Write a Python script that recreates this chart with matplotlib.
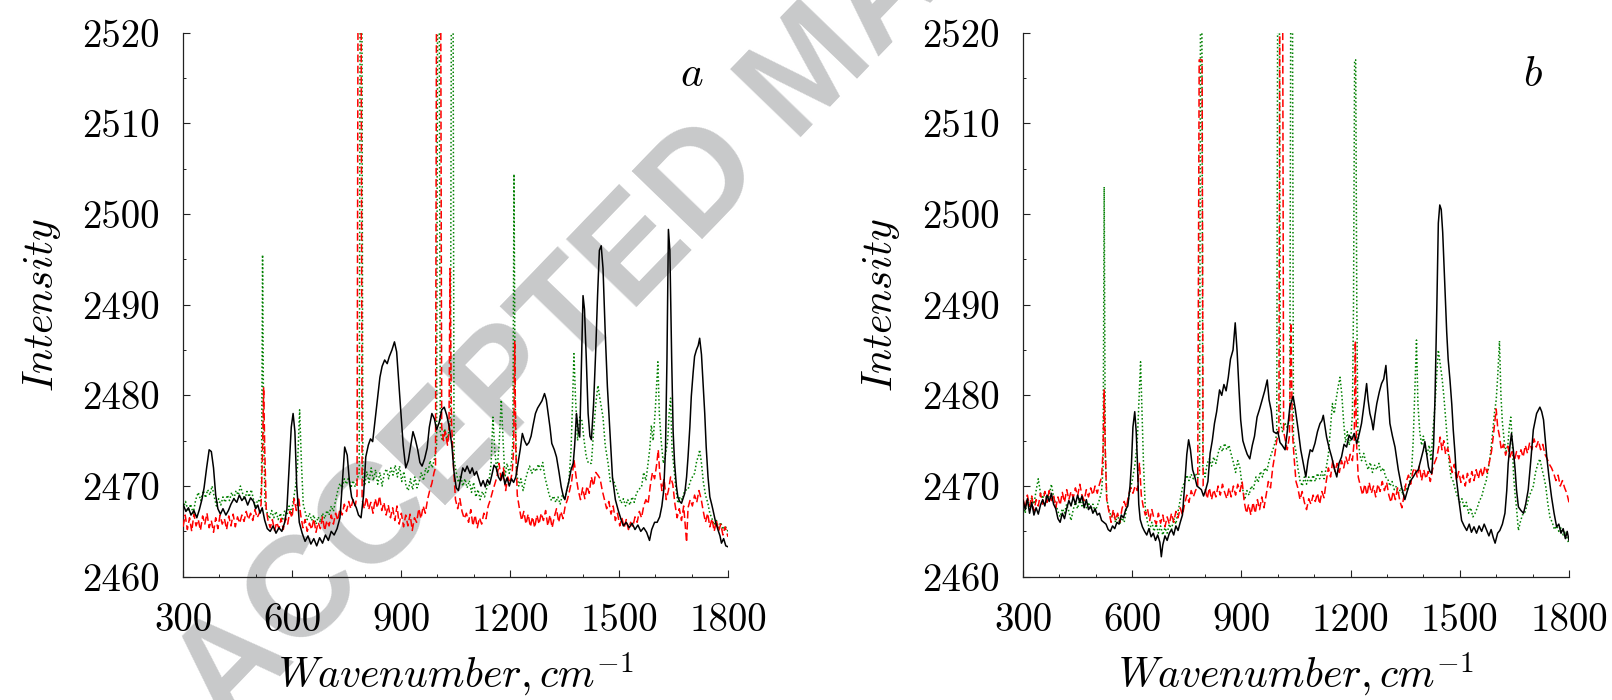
import matplotlib
matplotlib.use("Agg")
import matplotlib.pyplot as plt
from matplotlib.ticker import MultipleLocator

# ---------------- data (wavenumber, intensity) ----------------
XLIM = (300, 1800)
YLIM = (2460, 2520)
XTICKS = [300, 600, 900, 1200, 1500, 1800]
YTICKS = [2460, 2470, 2480, 2490, 2500, 2510, 2520]
PANEL_LABELS = ["a", "b"]
XLABEL = r"$Wavenumber, cm^{-1}$"
YLABEL = r"$Intensity$"
WATERMARK = "ACCEPTED MANUSCRIPT"

a_black = [(300,2468.0),(308,2467.2),(315,2467.6),(322,2466.8),(330,2467.3),(338,2466.5),(345,2467.4),
 (352,2468.5),(358,2469.8),(365,2472.0),(372,2474.0),(378,2473.8),(384,2472.0),(390,2469.0),(396,2467.5),
 (403,2466.9),(410,2467.5),(418,2466.8),(425,2467.3),(432,2468.0),(440,2468.6),(448,2468.2),(455,2469.0),
 (462,2468.4),(470,2468.8),(478,2467.9),(486,2468.7),(494,2468.3),(500,2467.5),(506,2467.9),(512,2467.0),
 (518,2467.6),(525,2466.2),(532,2465.3),(540,2465.0),(548,2465.6),(556,2464.8),(564,2465.4),(572,2465.0),
 (580,2466.0),(586,2467.5),(592,2472.0),(598,2476.5),(603,2478.0),(608,2476.0),(613,2470.0),(620,2466.0),
 (628,2464.8),(636,2463.9),(644,2464.5),(652,2463.6),(660,2464.2),(668,2463.4),(676,2464.3),(684,2463.7),
 (692,2464.6),(700,2464.0),(708,2465.0),(716,2464.6),(724,2465.3),(732,2466.5),(738,2470.0),(745,2474.3),
 (752,2473.4),(758,2470.5),(764,2468.8),(770,2468.2),(777,2467.6),(783,2466.8),(790,2466.5),(797,2469.0),
 (803,2473.2),(810,2474.5),(816,2475.2),(822,2474.9),(828,2477.0),(835,2479.5),(842,2482.0),(848,2483.2),
 (855,2483.9),(862,2483.5),(868,2484.3),(875,2485.0),(882,2485.9),(888,2484.8),(893,2482.0),(899,2478.5),
 (906,2474.5),(913,2472.0),(920,2472.8),(927,2474.5),(933,2476.0),(939,2475.2),(946,2474.0),(952,2472.6),
 (958,2472.2),(965,2473.0),(972,2474.2),(978,2476.5),(985,2478.0),(992,2477.4),(998,2476.2),(1005,2477.0),
 (1012,2478.4),(1019,2478.7),(1026,2477.8),(1033,2476.5),(1040,2474.5),(1046,2471.5),(1052,2469.8),
 (1058,2469.5),(1064,2470.8),(1070,2472.0),(1076,2471.6),(1082,2472.2),(1090,2471.4),(1096,2472.0),
 (1102,2471.2),(1108,2471.6),(1114,2470.8),(1120,2470.0),(1126,2470.6),(1132,2469.9),(1138,2470.7),
 (1144,2470.2),(1150,2471.2),(1156,2472.3),(1162,2472.0),(1168,2471.0),(1174,2470.6),(1180,2471.5),
 (1186,2470.2),(1192,2470.9),(1198,2470.0),(1204,2470.8),(1210,2470.4),(1216,2471.0),(1222,2472.5),
 (1228,2474.0),(1234,2475.8),(1240,2475.0),(1246,2474.5),(1252,2474.8),(1258,2475.5),(1264,2476.8),
 (1270,2478.0),(1276,2478.6),(1282,2479.0),(1288,2479.4),(1295,2480.2),(1300,2479.5),(1305,2478.0),
 (1310,2476.5),(1315,2474.7),(1322,2474.0),(1328,2473.2),(1335,2471.5),(1341,2469.9),(1346,2469.0),
 (1351,2468.5),(1356,2469.5),(1362,2470.5),(1368,2471.8),(1374,2472.5),(1378,2474.5),(1383,2478.0),
 (1388,2476.0),(1392,2475.4),(1397,2484.0),(1401,2491.0),(1405,2489.5),(1410,2484.0),(1415,2478.0),
 (1420,2475.5),(1424,2475.1),(1430,2479.0),(1436,2485.0),(1441,2491.0),(1446,2496.0),(1451,2496.5),
 (1456,2494.0),(1462,2487.0),(1468,2481.0),(1475,2476.0),(1482,2471.0),(1490,2468.5),(1498,2467.3),
 (1505,2466.4),(1512,2465.6),(1520,2466.0),(1528,2465.4),(1536,2465.9),(1544,2465.2),(1552,2465.7),
 (1560,2465.0),(1568,2465.4),(1576,2464.9),(1584,2464.0),(1590,2465.2),(1598,2466.0),(1605,2466.0),
 (1612,2466.6),(1618,2467.8),(1623,2469.5),(1628,2474.0),(1632,2484.0),(1636,2498.3),(1640,2496.0),
 (1645,2484.0),(1649,2476.0),(1653,2472.5),(1658,2470.0),(1662,2468.8),(1667,2468.3),(1672,2468.1),
 (1676,2468.6),(1681,2469.2),(1686,2471.0),(1690,2473.2),(1695,2476.5),(1699,2479.9),(1704,2482.5),
 (1708,2484.3),(1713,2485.0),(1718,2485.5),(1722,2486.3),(1727,2484.5),(1731,2481.7),(1736,2478.0),
 (1740,2474.3),(1745,2471.0),(1750,2468.8),(1755,2468.0),(1759,2467.3),(1766,2466.0),(1773,2465.1),
 (1778,2464.5),(1782,2463.7),(1788,2464.2),(1794,2463.4),(1800,2463.3)]

a_red = [(300,2465.5),(306,2466.8),(312,2465.2),(318,2466.5),(324,2465.0),(330,2466.9),(336,2465.6),
 (342,2466.3),(348,2465.1),(354,2466.7),(360,2465.8),(366,2467.0),(372,2465.4),(378,2466.2),(384,2464.9),
 (390,2466.5),(396,2465.3),(402,2466.8),(408,2465.8),(414,2466.4),(420,2465.2),(426,2466.7),(432,2465.6),
 (438,2466.9),(444,2465.5),(450,2466.6),(456,2465.9),(462,2466.8),(468,2466.1),(474,2467.2),(480,2466.3),
 (486,2467.0),(492,2466.2),(498,2467.4),(504,2466.5),(510,2467.0),(515,2468.0),(519,2474.0),(522,2480.9),
 (525,2474.0),(529,2467.5),(534,2466.2),(540,2465.4),(546,2466.3),(552,2465.1),(558,2466.0),(564,2465.3),
 (570,2466.4),(576,2465.2),(582,2466.5),(588,2465.8),(594,2467.2),(600,2466.5),(606,2468.6),(612,2467.3),
 (618,2468.8),(624,2466.8),(630,2465.4),(636,2466.3),(642,2465.0),(648,2465.9),(654,2465.2),(660,2466.4),
 (666,2464.9),(672,2466.0),(678,2465.3),(684,2466.6),(690,2465.1),(696,2466.2),(702,2465.6),(708,2466.8),
 (714,2465.8),(720,2467.0),(726,2466.2),(732,2467.5),(738,2466.8),(744,2468.0),(750,2467.2),(756,2468.3),
 (762,2467.5),(768,2468.5),(774,2467.8),(779,2469.0),(782,2530.0),(790,2530.0),(793,2468.5),(799,2467.5),
 (805,2468.8),(811,2467.4),(817,2468.2),(823,2467.0),(829,2468.6),(835,2467.6),(841,2468.9),(847,2467.3),
 (853,2468.2),(859,2466.8),(865,2467.9),(871,2466.5),(877,2467.6),(883,2466.2),(889,2467.8),(895,2465.8),
 (901,2467.0),(907,2465.5),(913,2466.8),(919,2465.6),(925,2466.9),(931,2465.1),(937,2466.5),(943,2466.0),
 (949,2467.5),(955,2466.4),(961,2467.8),(967,2467.0),(973,2468.5),(979,2469.5),(985,2470.3),(991,2471.5),
 (995,2472.0),(998,2530.0),(1009,2530.0),(1012,2476.5),(1017,2475.0),(1022,2476.0),(1028,2474.5),
 (1032,2476.0),(1035,2494.0),(1039,2477.0),(1044,2472.5),(1050,2468.5),(1056,2467.5),(1062,2468.6),
 (1068,2467.2),(1074,2466.4),(1080,2467.0),(1086,2466.0),(1092,2467.4),(1098,2465.6),(1104,2466.8),
 (1110,2465.4),(1116,2466.5),(1122,2465.8),(1128,2467.0),(1134,2466.4),(1140,2467.8),(1146,2468.5),
 (1152,2469.4),(1158,2470.2),(1164,2471.0),(1170,2472.5),(1176,2470.5),(1182,2472.0),(1188,2469.5),
 (1194,2471.0),(1200,2470.3),(1206,2471.5),(1210,2474.0),(1213,2486.0),(1216,2474.0),(1220,2469.0),
 (1226,2467.5),(1232,2466.2),(1238,2467.2),(1244,2465.8),(1250,2466.9),(1256,2465.5),(1262,2466.6),
 (1268,2465.4),(1274,2466.8),(1280,2465.8),(1286,2467.0),(1292,2466.2),(1298,2467.3),(1304,2465.6),
 (1310,2466.8),(1316,2465.4),(1322,2466.6),(1328,2467.5),(1334,2466.0),(1340,2467.2),(1346,2466.4),
 (1352,2467.8),(1358,2468.5),(1364,2469.5),(1370,2470.6),(1376,2472.9),(1382,2471.0),(1388,2469.5),
 (1394,2468.5),(1400,2469.8),(1406,2468.6),(1412,2470.0),(1418,2469.2),(1424,2471.0),(1430,2470.0),
 (1436,2471.5),(1442,2471.2),(1448,2470.8),(1454,2469.5),(1460,2468.5),(1466,2467.5),(1472,2468.3),
 (1478,2466.9),(1484,2467.8),(1490,2466.2),(1496,2467.0),(1502,2465.6),(1508,2466.5),(1514,2465.4),
 (1520,2466.3),(1526,2465.2),(1532,2466.0),(1538,2465.5),(1544,2466.6),(1550,2466.0),(1556,2467.2),
 (1562,2466.5),(1568,2467.8),(1574,2468.5),(1580,2468.0),(1586,2470.0),(1592,2471.5),(1598,2470.8),
 (1604,2472.5),(1608,2474.0),(1612,2471.5),(1618,2469.5),(1624,2470.8),(1630,2468.5),(1636,2469.5),
 (1642,2471.0),(1648,2470.2),(1654,2468.0),(1660,2466.5),(1666,2467.5),(1672,2466.2),(1678,2467.8),
 (1686,2463.8),(1690,2467.6),(1696,2468.5),(1702,2467.8),(1708,2469.0),(1714,2468.2),(1720,2469.5),
 (1726,2468.6),(1732,2467.2),(1738,2466.0),(1744,2467.0),(1750,2465.5),(1756,2466.4),(1762,2465.0),
 (1768,2466.2),(1774,2465.0),(1780,2465.8),(1786,2464.6),(1792,2465.5),(1800,2464.4)]

a_green = [(300,2467.5),(307,2468.3),(314,2467.2),(321,2468.0),(328,2467.0),(335,2468.5),(342,2469.3),
 (349,2468.4),(356,2469.5),(362,2468.7),(368,2469.6),(374,2469.0),(380,2470.0),(386,2468.8),(392,2467.8),
 (398,2468.6),(404,2467.9),(410,2468.8),(416,2468.2),(422,2469.0),(428,2468.4),(434,2469.3),(440,2468.6),
 (446,2469.5),(452,2469.0),(458,2470.0),(464,2469.2),(470,2468.5),(476,2469.4),(482,2468.8),(488,2469.6),
 (494,2468.5),(500,2467.8),(506,2468.5),(512,2468.2),(516,2470.0),(519,2495.5),(522,2475.0),(526,2468.0),
 (532,2467.0),(538,2466.4),(544,2467.3),(550,2466.5),(556,2467.2),(562,2466.3),(568,2467.0),(574,2466.2),
 (580,2467.3),(586,2466.8),(592,2467.8),(598,2467.0),(604,2468.5),(610,2470.0),(615,2472.1),(621,2478.4),
 (626,2472.5),(631,2468.0),(636,2467.2),(642,2466.3),(648,2467.0),(654,2466.2),(660,2466.8),(666,2465.8),
 (672,2466.6),(678,2466.0),(684,2467.0),(690,2466.4),(696,2467.3),(702,2466.8),(708,2467.8),(714,2467.2),
 (720,2468.4),(726,2469.5),(732,2470.3),(738,2469.8),(744,2470.8),(750,2470.2),(756,2471.0),(762,2469.8),
 (768,2470.6),(774,2469.9),(780,2470.8),(785,2471.5),(788,2530.0),(792,2530.0),(795,2471.0),(800,2470.0),
 (806,2471.6),(812,2470.4),(818,2472.0),(824,2470.6),(830,2471.8),(836,2470.2),(842,2471.5),(848,2470.0),
 (854,2471.4),(860,2471.9),(866,2470.8),(872,2472.0),(878,2471.2),(884,2472.3),(890,2471.0),(896,2472.2),
 (902,2470.5),(908,2471.6),(914,2470.0),(920,2469.5),(926,2470.8),(932,2469.6),(938,2471.0),(944,2469.8),
 (950,2470.5),(956,2471.5),(962,2470.6),(968,2472.0),(974,2471.4),(980,2472.8),(986,2472.0),(992,2473.0),
 (998,2474.5),(1001,2530.0),(1005,2530.0),(1008,2476.0),(1014,2475.0),(1020,2476.3),(1026,2475.2),
 (1032,2476.0),(1036,2477.0),(1039,2530.0),(1043,2530.0),(1046,2473.0),(1052,2471.5),(1058,2470.4),
 (1064,2471.2),(1070,2470.0),(1076,2470.8),(1082,2469.8),(1088,2470.6),(1094,2469.3),(1100,2470.4),
 (1106,2468.8),(1112,2469.6),(1118,2468.5),(1124,2469.4),(1130,2468.8),(1136,2469.8),(1142,2470.5),
 (1148,2472.5),(1153,2477.6),(1158,2474.0),(1164,2471.5),(1170,2474.5),(1176,2479.5),(1181,2475.0),
 (1186,2471.0),(1192,2472.5),(1198,2471.4),(1204,2472.5),(1208,2475.0),(1211,2504.4),(1214,2480.0),
 (1218,2471.5),(1224,2470.0),(1230,2470.8),(1236,2469.5),(1242,2470.6),(1248,2471.5),(1254,2472.2),
 (1260,2471.4),(1266,2472.0),(1272,2471.6),(1278,2472.4),(1284,2471.8),(1290,2472.6),(1296,2471.0),
 (1302,2470.0),(1308,2469.0),(1314,2468.4),(1320,2468.9),(1326,2468.2),(1332,2468.8),(1338,2468.0),
 (1344,2469.0),(1350,2468.5),(1356,2469.5),(1362,2470.5),(1368,2474.0),(1372,2479.0),(1376,2484.6),
 (1380,2480.0),(1386,2475.0),(1392,2477.6),(1398,2477.2),(1404,2475.0),(1410,2473.2),(1416,2472.5),
 (1424,2472.5),(1430,2476.0),(1436,2479.0),(1442,2481.1),(1448,2479.5),(1456,2477.6),(1462,2474.5),
 (1470,2472.5),(1476,2470.5),(1482,2470.8),(1488,2470.3),(1494,2469.5),(1500,2468.8),(1506,2468.1),
 (1512,2468.6),(1518,2467.8),(1524,2468.5),(1530,2467.9),(1536,2468.8),(1542,2468.2),(1548,2469.2),
 (1554,2469.6),(1562,2469.9),(1568,2471.5),(1574,2470.6),(1580,2472.5),(1585,2474.2),(1589,2476.7),
 (1594,2475.0),(1600,2478.5),(1604,2481.5),(1607,2483.7),(1611,2478.0),(1616,2475.0),(1622,2472.5),
 (1628,2473.5),(1634,2475.0),(1638,2478.0),(1642,2479.7),(1646,2474.0),(1650,2472.5),(1656,2470.0),
 (1662,2468.1),(1668,2468.8),(1674,2468.5),(1680,2469.4),(1686,2469.6),(1690,2469.6),(1696,2470.5),
 (1702,2471.0),(1708,2471.4),(1714,2472.8),(1718,2473.2),(1722,2474.0),(1727,2472.5),(1732,2470.5),
 (1738,2469.0),(1744,2468.2),(1750,2467.0),(1756,2466.4),(1762,2465.7),(1768,2466.2),(1774,2465.4),
 (1780,2466.0),(1786,2465.2),(1792,2465.6),(1800,2465.0)]

b_black = [(300,2468.5),(306,2467.4),(312,2468.6),(318,2467.0),(324,2468.2),(330,2466.8),(336,2467.6),
 (342,2466.9),(348,2467.9),(354,2468.5),(360,2467.8),(366,2469.0),(372,2468.3),(378,2469.2),(384,2468.0),
 (390,2467.5),(396,2466.4),(402,2466.0),(408,2467.0),(414,2466.4),(420,2467.5),(426,2468.4),(432,2467.8),
 (438,2468.8),(444,2468.0),(450,2469.0),(456,2468.2),(462,2468.9),(468,2467.6),(474,2468.5),(480,2467.4),
 (486,2467.8),(492,2467.0),(498,2467.5),(504,2466.8),(510,2467.0),(516,2466.2),(522,2466.0),(528,2465.8),
 (534,2465.2),(540,2465.0),(546,2465.6),(552,2465.3),(558,2466.0),(564,2465.8),(570,2466.8),(576,2466.5),
 (582,2467.4),(588,2467.8),(594,2470.0),(598,2472.5),(602,2476.5),(607,2478.2),(611,2476.0),(614,2473.0),
 (618,2468.0),(622,2466.3),(628,2465.5),(634,2465.0),(640,2464.6),(646,2465.3),(652,2464.4),(658,2464.8),
 (664,2464.0),(670,2464.6),(676,2463.8),(680,2462.2),(684,2463.5),(690,2464.5),(696,2464.0),(702,2464.8),
 (708,2465.2),(714,2464.6),(720,2465.6),(726,2465.1),(732,2466.0),(738,2466.8),(744,2470.0),(750,2473.5),
 (755,2475.1),(760,2474.0),(766,2471.8),(772,2471.0),(778,2470.0),(784,2469.8),(790,2469.6),(796,2468.9),
 (802,2469.6),(808,2470.5),(814,2473.6),(820,2475.0),(826,2476.9),(832,2478.2),(840,2480.6),(846,2480.0),
 (852,2481.2),(858,2480.5),(864,2482.0),(870,2484.0),(877,2485.0),(883,2488.0),(888,2485.0),(893,2481.0),
 (898,2477.3),(904,2475.0),(910,2474.2),(916,2473.5),(923,2473.0),(930,2474.5),(936,2475.5),(943,2477.6),
 (950,2478.5),(957,2479.5),(964,2480.5),(971,2481.7),(976,2479.5),(982,2478.3),(988,2476.0),(996,2475.8),
 (1000,2476.0),(1006,2474.8),(1012,2474.5),(1020,2474.0),(1026,2476.0),(1033,2478.7),(1042,2479.9),
 (1048,2478.5),(1056,2476.2),(1063,2474.0),(1070,2472.5),(1077,2471.0),(1083,2472.8),(1089,2474.0),
 (1095,2473.8),(1102,2474.7),(1109,2476.0),(1116,2476.9),(1121,2477.2),(1125,2477.8),(1130,2476.5),
 (1134,2475.4),(1141,2474.2),(1148,2473.2),(1155,2472.0),(1162,2471.0),(1168,2472.5),(1175,2473.2),
 (1182,2474.6),(1189,2474.3),(1196,2475.6),(1203,2475.1),(1210,2475.8),(1217,2474.7),(1224,2475.8),
 (1230,2476.9),(1237,2479.0),(1244,2481.3),(1248,2479.5),(1253,2478.0),(1258,2477.2),(1262,2476.2),
 (1267,2477.8),(1272,2479.1),(1279,2480.4),(1285,2481.3),(1291,2481.8),(1297,2483.3),(1303,2479.9),
 (1308,2476.9),(1315,2475.5),(1322,2474.3),(1331,2471.8),(1340,2469.9),(1349,2468.5),(1354,2469.2),
 (1359,2469.9),(1365,2470.6),(1372,2471.0),(1379,2471.5),(1386,2471.8),(1391,2472.6),(1395,2473.2),
 (1400,2474.0),(1404,2474.9),(1409,2473.5),(1414,2472.1),(1418,2471.6),(1423,2471.4),(1428,2474.5),
 (1432,2479.9),(1437,2490.0),(1441,2499.0),(1445,2501.0),(1449,2500.5),(1453,2498.0),(1458,2493.0),
 (1464,2487.0),(1468,2484.0),(1473,2481.7),(1478,2479.0),(1482,2476.2),(1487,2473.5),(1491,2470.7),
 (1498,2468.3),(1505,2466.2),(1512,2465.6),(1519,2465.1),(1526,2465.8),(1532,2464.9),(1539,2465.5),
 (1546,2464.8),(1553,2465.6),(1560,2465.0),(1567,2465.8),(1574,2465.1),(1580,2464.5),(1586,2465.2),
 (1592,2464.3),(1597,2463.7),(1604,2464.8),(1610,2465.1),(1617,2465.8),(1624,2467.0),(1629,2469.5),
 (1633,2472.5),(1638,2474.5),(1642,2475.8),(1647,2474.0),(1652,2471.8),(1656,2469.5),(1661,2467.7),
 (1668,2467.3),(1675,2467.0),(1681,2468.0),(1688,2469.6),(1695,2472.8),(1702,2476.2),(1706,2477.0),
 (1711,2478.0),(1716,2478.4),(1720,2478.7),(1725,2478.2),(1730,2477.3),(1734,2475.5),(1739,2473.2),
 (1745,2471.0),(1752,2468.8),(1759,2467.0),(1766,2465.5),(1772,2465.8),(1778,2464.8),(1784,2465.3),
 (1790,2464.2),(1795,2465.0),(1800,2464.0)]

b_red = [(300,2468.6),(306,2467.5),(312,2469.0),(318,2467.8),(324,2468.9),(330,2467.2),(336,2468.5),
 (342,2467.8),(348,2469.2),(354,2468.0),(360,2469.4),(366,2468.2),(372,2469.5),(378,2468.4),(384,2469.0),
 (390,2467.6),(396,2468.8),(402,2467.9),(408,2469.3),(414,2468.2),(420,2469.6),(426,2468.5),(432,2469.4),
 (438,2468.7),(444,2469.8),(450,2468.9),(456,2470.2),(462,2469.0),(468,2468.4),(474,2469.6),(480,2468.8),
 (486,2469.8),(492,2469.0),(498,2470.0),(504,2469.2),(510,2470.2),(516,2471.0),(520,2474.0),(523,2480.6),
 (526,2474.0),(530,2468.5),(536,2467.2),(542,2466.0),(548,2467.4),(554,2466.2),(560,2467.0),(566,2466.0),
 (572,2467.5),(578,2468.3),(584,2467.6),(590,2469.0),(596,2469.8),(602,2469.2),(608,2470.0),(614,2469.5),
 (620,2472.5),(625,2469.0),(630,2467.8),(636,2466.8),(642,2467.5),(648,2466.2),(654,2467.4),(660,2466.4),
 (666,2465.8),(672,2467.0),(678,2465.9),(684,2466.8),(690,2465.5),(696,2466.6),(702,2465.8),(708,2467.0),
 (714,2466.0),(720,2467.2),(726,2466.5),(732,2467.6),(738,2466.8),(744,2468.0),(750,2469.0),(756,2468.2),
 (762,2469.5),(768,2468.8),(774,2469.5),(780,2470.0),(784,2517.0),(792,2517.0),(795,2470.0),(800,2469.8),
 (806,2468.6),(812,2469.8),(818,2468.5),(824,2469.6),(830,2468.8),(836,2470.0),(842,2469.0),(848,2470.2),
 (854,2469.3),(860,2468.6),(866,2469.8),(872,2468.8),(878,2470.0),(884,2469.0),(890,2470.2),(896,2469.4),
 (902,2470.5),(908,2468.2),(914,2467.0),(920,2468.0),(926,2466.8),(932,2468.2),(938,2467.0),(944,2468.5),
 (950,2467.4),(956,2468.8),(962,2467.6),(968,2469.0),(974,2470.5),(980,2469.8),(986,2472.0),(992,2473.5),
 (997,2475.0),(1003,2476.0),(1006,2530.0),(1013,2530.0),(1016,2476.0),(1021,2475.0),(1026,2474.0),
 (1032,2475.5),(1036,2488.0),(1040,2476.0),(1045,2473.0),(1050,2470.5),(1055,2469.8),(1061,2468.5),
 (1067,2469.4),(1073,2468.2),(1079,2467.4),(1085,2468.6),(1091,2468.0),(1097,2469.0),(1103,2468.3),
 (1109,2469.2),(1115,2468.0),(1121,2469.4),(1127,2468.7),(1133,2470.5),(1139,2472.0),(1145,2471.0),
 (1151,2472.8),(1157,2471.6),(1163,2472.5),(1169,2471.5),(1175,2472.8),(1181,2472.0),(1187,2473.2),
 (1193,2472.4),(1199,2473.5),(1205,2472.8),(1210,2475.0),(1213,2486.0),(1216,2475.0),(1221,2471.0),
 (1227,2470.0),(1233,2469.0),(1239,2470.2),(1245,2469.0),(1251,2470.4),(1257,2469.2),(1263,2470.0),
 (1269,2468.8),(1275,2470.2),(1281,2469.4),(1287,2470.5),(1293,2469.5),(1299,2470.4),(1305,2469.0),
 (1311,2468.2),(1317,2469.4),(1323,2468.5),(1329,2469.8),(1335,2468.4),(1341,2467.6),(1347,2469.0),
 (1353,2470.5),(1359,2471.2),(1365,2470.2),(1371,2471.6),(1377,2472.0),(1383,2471.0),(1389,2472.2),
 (1395,2470.6),(1401,2471.8),(1407,2470.8),(1413,2471.6),(1419,2470.5),(1425,2471.8),(1431,2472.6),
 (1437,2473.2),(1443,2474.5),(1446,2475.4),(1451,2474.0),(1456,2475.0),(1461,2473.5),(1467,2474.2),
 (1473,2472.8),(1479,2471.5),(1485,2472.4),(1491,2470.6),(1497,2471.6),(1503,2470.4),(1509,2471.2),
 (1515,2470.0),(1521,2471.4),(1527,2470.4),(1533,2471.6),(1539,2470.6),(1545,2471.8),(1551,2470.8),
 (1557,2472.0),(1563,2471.0),(1569,2472.2),(1575,2471.5),(1581,2472.6),(1587,2473.8),(1592,2475.5),
 (1596,2477.0),(1600,2478.5),(1604,2476.5),(1609,2475.5),(1614,2474.0),(1620,2474.6),(1626,2473.4),
 (1632,2474.4),(1638,2473.2),(1644,2474.0),(1650,2472.8),(1656,2473.8),(1662,2473.0),(1668,2474.0),
 (1674,2473.2),(1680,2474.5),(1686,2473.6),(1692,2474.8),(1698,2474.0),(1704,2475.2),(1710,2474.3),
 (1716,2475.0),(1722,2474.0),(1728,2474.6),(1734,2473.5),(1740,2473.0),(1746,2472.4),(1752,2472.0),
 (1758,2471.4),(1764,2470.6),(1770,2471.2),(1776,2470.0),(1782,2470.6),(1788,2469.8),(1794,2469.2),
 (1800,2468.2)]

b_green = [(300,2468.2),(306,2467.0),(312,2468.5),(318,2467.6),(324,2468.8),(330,2468.0),(336,2469.5),
 (342,2470.8),(348,2469.2),(354,2468.6),(360,2469.4),(366,2468.4),(372,2469.0),(378,2470.2),(384,2468.8),
 (390,2468.0),(396,2467.2),(402,2466.6),(408,2467.5),(414,2467.0),(420,2468.0),(426,2467.2),(432,2466.2),
 (438,2467.4),(444,2468.2),(450,2467.5),(456,2468.6),(462,2467.8),(468,2468.5),(474,2467.6),(480,2468.2),
 (486,2467.4),(492,2468.0),(498,2467.2),(504,2467.8),(510,2468.5),(516,2469.5),(520,2472.0),(523,2503.0),
 (526,2474.0),(530,2468.5),(536,2467.5),(542,2466.6),(548,2467.2),(554,2466.0),(560,2466.8),(566,2465.8),
 (572,2466.5),(578,2466.0),(584,2467.4),(590,2468.6),(596,2469.8),(602,2471.0),(608,2472.5),(614,2475.0),
 (618,2479.0),(623,2483.7),(627,2478.0),(631,2472.5),(636,2467.5),(642,2466.0),(648,2465.2),(654,2466.0),
 (660,2465.0),(666,2465.8),(672,2464.8),(678,2465.6),(684,2464.6),(690,2465.4),(696,2464.8),(702,2465.8),
 (708,2465.2),(714,2466.4),(720,2465.8),(726,2467.2),(732,2468.5),(738,2469.8),(744,2470.5),(750,2471.2),
 (756,2470.6),(762,2471.3),(768,2470.8),(774,2471.4),(780,2470.9),(785,2471.5),(788,2530.0),(791,2530.0),
 (794,2472.0),(800,2471.0),(806,2472.5),(812,2473.0),(818,2472.2),(824,2473.2),(830,2472.5),(836,2473.6),
 (842,2474.4),(848,2473.8),(854,2474.7),(860,2474.0),(866,2474.5),(872,2473.5),(878,2472.6),(884,2471.5),
 (890,2472.8),(896,2472.0),(902,2470.0),(909,2468.5),(915,2469.5),(921,2469.0),(927,2470.0),(933,2469.6),
 (940,2471.0),(946,2470.4),(952,2471.6),(958,2471.0),(964,2472.0),(970,2471.6),(976,2472.8),(982,2473.5),
 (988,2474.2),(994,2475.0),(997,2476.0),(1000,2530.0),(1004,2530.0),(1007,2477.0),(1013,2476.0),
 (1019,2477.0),(1025,2476.5),(1030,2477.0),(1033,2478.0),(1036,2530.0),(1040,2530.0),(1043,2475.0),
 (1049,2474.0),(1055,2472.0),(1061,2470.6),(1067,2470.0),(1073,2471.0),(1079,2470.2),(1085,2471.0),
 (1091,2470.4),(1097,2471.2),(1103,2470.5),(1109,2471.4),(1115,2470.8),(1121,2471.6),(1127,2470.8),
 (1133,2472.0),(1139,2473.5),(1145,2476.5),(1150,2479.1),(1155,2478.0),(1160,2479.5),(1166,2481.0),
 (1171,2482.0),(1176,2480.0),(1181,2477.0),(1186,2474.8),(1191,2476.0),(1196,2474.5),(1201,2475.5),
 (1205,2478.0),(1208,2490.0),(1211,2517.0),(1214,2517.0),(1217,2490.0),(1220,2476.0),(1225,2473.5),
 (1230,2472.8),(1236,2473.6),(1242,2472.6),(1248,2471.8),(1254,2472.6),(1260,2471.5),(1266,2472.3),
 (1272,2471.8),(1278,2472.5),(1284,2471.6),(1290,2472.0),(1296,2471.0),(1302,2470.8),(1308,2470.0),
 (1314,2470.5),(1320,2469.6),(1326,2470.0),(1332,2469.2),(1338,2469.8),(1344,2469.0),(1350,2470.0),
 (1356,2469.5),(1362,2470.5),(1368,2472.0),(1372,2475.0),(1376,2480.0),(1381,2486.1),(1385,2479.0),
 (1390,2476.0),(1395,2474.5),(1400,2475.5),(1405,2474.0),(1410,2473.5),(1416,2474.5),(1421,2472.8),
 (1426,2476.0),(1432,2479.0),(1437,2482.5),(1441,2485.0),(1446,2483.5),(1451,2482.0),(1456,2480.0),
 (1461,2477.5),(1466,2475.0),(1471,2472.5),(1476,2471.0),(1482,2470.5),(1488,2469.5),(1494,2468.8),
 (1500,2468.2),(1506,2468.6),(1512,2467.6),(1518,2468.2),(1524,2467.0),(1530,2467.6),(1536,2466.6),
 (1542,2467.0),(1548,2467.6),(1554,2468.4),(1560,2468.8),(1566,2469.8),(1572,2470.5),(1578,2471.8),
 (1584,2473.5),(1590,2475.8),(1595,2478.0),(1600,2479.5),(1604,2482.0),(1609,2486.0),(1613,2480.0),
 (1617,2477.0),(1622,2475.0),(1627,2473.8),(1632,2474.5),(1636,2476.5),(1640,2477.6),(1644,2475.0),
 (1648,2471.0),(1652,2469.0),(1656,2467.5),(1661,2465.1),(1666,2466.0),(1672,2466.8),(1678,2467.0),
 (1684,2467.8),(1690,2468.8),(1696,2469.4),(1702,2470.0),(1708,2471.5),(1714,2472.4),(1720,2473.0),
 (1725,2472.0),(1731,2471.0),(1736,2470.0),(1742,2468.0),(1748,2466.5),(1754,2466.0),(1760,2465.2),
 (1766,2465.6),(1772,2465.0),(1778,2465.4),(1784,2464.6),(1790,2465.0),(1795,2464.2),(1800,2463.6)]

PANELS = [(a_black, a_red, a_green), (b_black, b_red, b_green)]

# ---------------- figure ----------------
plt.rcParams["font.family"] = ["cmr10", "DejaVu Serif"]
plt.rcParams["mathtext.fontset"] = "cm"
plt.rcParams["axes.unicode_minus"] = False
plt.rcParams["axes.formatter.use_mathtext"] = True

W, H = 1612, 700
fig = plt.figure(figsize=(W / 100, H / 100), dpi=100)
ax_rects = [[183 / W, 1 - 576.7 / H, 545 / W, 544 / H],
            [1023 / W, 1 - 576.7 / H, 546 / W, 544 / H]]

fig.text(226 / W, 1 - 732 / H, WATERMARK, rotation=46, rotation_mode="anchor",
         ha="left", va="baseline", fontsize=102, fontweight="bold",
         family="Liberation Sans", color="#c8c9ca", zorder=-5)

for rect, (blk, red, grn), lab in zip(ax_rects, PANELS, PANEL_LABELS):
    ax = fig.add_axes(rect)
    ax.set_facecolor("none")
    gx, gy = zip(*grn)
    rx, ry = zip(*red)
    bx, by = zip(*blk)
    ax.plot(gx, gy, color="#008000", lw=1.1, linestyle=(0, (1.0, 1.5)), zorder=2)
    ax.plot(rx, ry, color="#ff0000", lw=1.1, linestyle=(0, (5.0, 2.3)), zorder=3)
    ax.plot(bx, by, color="black", lw=1.1, zorder=4)
    ax.set_xlim(*XLIM)
    ax.set_ylim(*YLIM)
    ax.set_xticks(XTICKS)
    ax.set_yticks(YTICKS)
    ax.set_xticklabels([str(t) for t in XTICKS])
    ax.set_yticklabels([str(t) for t in YTICKS])
    ax.xaxis.set_minor_locator(MultipleLocator(100))
    ax.yaxis.set_minor_locator(MultipleLocator(5))
    for s in ("top", "right"):
        ax.spines[s].set_visible(False)
    for s in ("left", "bottom"):
        ax.spines[s].set_linewidth(0.9)
        ax.spines[s].set_color("#222222")
    ax.tick_params(axis="both", which="major", direction="in", length=5, width=0.8,
                   labelsize=28, color="#222222")
    ax.tick_params(axis="both", which="minor", direction="in", length=2.5, width=0.7,
                   color="#222222")
    ax.tick_params(axis="x", which="major", pad=19)
    ax.tick_params(axis="y", which="major", pad=17)
    ax.set_xlabel(XLABEL, fontsize=30)
    ax.set_ylabel(YLABEL, fontsize=30)
    ax.xaxis.set_label_coords(0.5, -0.135)
    ax.yaxis.set_label_coords(-0.221, 0.5)
    ax.text(1700, 2515.3, "$" + lab + "$", fontsize=31, ha="center", va="center")

fig.savefig("out.png", dpi=100)
